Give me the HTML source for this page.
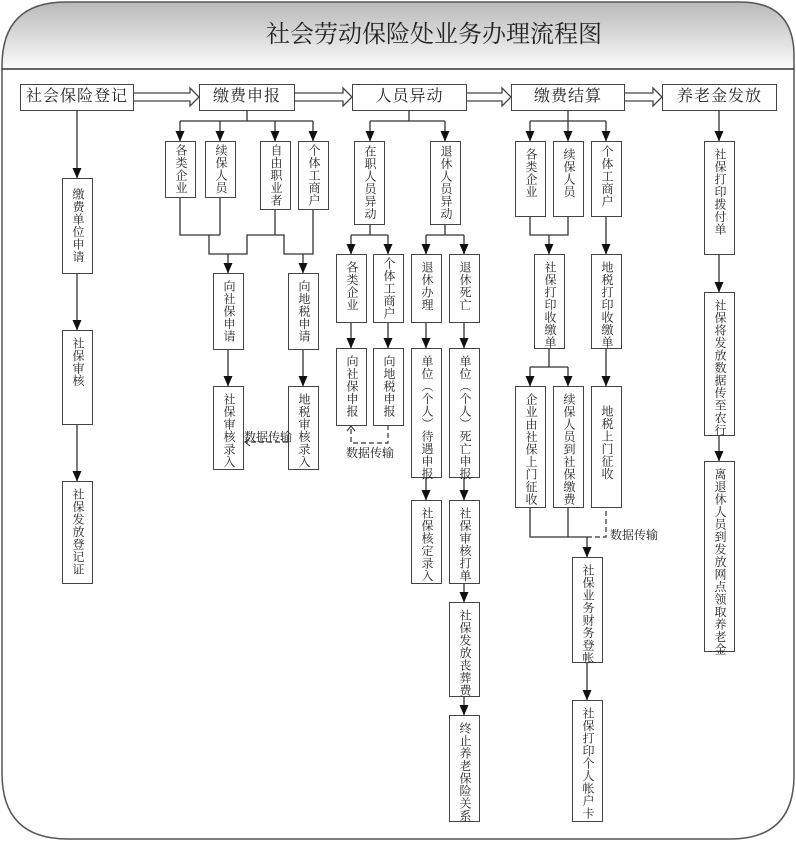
<!DOCTYPE html>
<html><head><meta charset="utf-8">
<style>
html,body{margin:0;padding:0;background:#fff;}
#w{position:relative;width:796px;height:841px;overflow:hidden;font-family:"Liberation Serif","Noto Serif CJK SC",serif;color:#222;}
svg{position:absolute;left:0;top:0;}
.b{position:absolute;box-sizing:border-box;border:1.6px solid #444;background:#fff;}
.v{writing-mode:vertical-rl;text-orientation:upright;font-size:12px;line-height:28px;letter-spacing:0.5px;padding-top:6px;text-align:left;white-space:nowrap;overflow:visible;}
.h{font-size:16px;text-align:center;line-height:24px;letter-spacing:1px;white-space:nowrap;}
.t{position:absolute;font-size:12px;white-space:nowrap;}
</style></head><body><div id="w">
<svg width="796" height="841" viewBox="0 0 796 841">
<defs>
<linearGradient id="g" x1="0" y1="0" x2="0" y2="1"><stop offset="0" stop-color="#b8b8b8"/><stop offset="1" stop-color="#fbfbfb"/></linearGradient>
<marker id="a" markerWidth="10" markerHeight="11" refX="5" refY="10" orient="0" markerUnits="userSpaceOnUse" viewBox="0 0 10 11"><path d="M0.5,0 L9.5,0 L5,10.5 z" fill="#111"/></marker>
</defs>
<path d="M2,69 L2,66 Q2,2 66,2 L740,2 Q794,2 794,56 L794,69 Z" fill="url(#g)"/>
<path d="M2,69 L2,66 Q2,2 66,2 L740,2 Q794,2 794,56 L794,775 Q794,839 730,839 L68,839 Q2,839 2,773 Z" fill="none" stroke="#555" stroke-width="1.5"/>
<line x1="2" y1="69" x2="794" y2="69" stroke="#333" stroke-width="1.5"/>
<text x="434" y="42" font-size="24" text-anchor="middle" font-family="Liberation Serif,Noto Serif CJK SC,serif" fill="#222">社会劳动保险处业务办理流程图</text>
<g fill="#fff" stroke="#444" stroke-width="1.3">
<path d="M133,93 L190,93 L190,88 L199,97 L190,106 L190,101 L133,101 Z"/>
<path d="M294,93 L343,93 L343,88 L352,97 L343,106 L343,101 L294,101 Z"/>
<path d="M466,93 L502,93 L502,88 L511,97 L502,106 L502,101 L466,101 Z"/>
<path d="M624,93 L653,93 L653,88 L662,97 L653,106 L653,101 L624,101 Z"/>
</g>
<g stroke="#333" stroke-width="1.3" fill="none">
<line x1="77" y1="111" x2="77" y2="178" marker-end="url(#a)"/>
<line x1="77" y1="273" x2="77" y2="330" marker-end="url(#a)"/>
<line x1="77" y1="424" x2="77" y2="481" marker-end="url(#a)"/>
<line x1="247" y1="111" x2="247" y2="121"/>
<line x1="180" y1="121" x2="313" y2="121"/>
<line x1="180" y1="121" x2="180" y2="141" marker-end="url(#a)"/>
<line x1="220" y1="121" x2="220" y2="141" marker-end="url(#a)"/>
<line x1="275" y1="121" x2="275" y2="141" marker-end="url(#a)"/>
<line x1="313" y1="121" x2="313" y2="141" marker-end="url(#a)"/>
<polyline points="180,197 180,235 220,235"/>
<line x1="220" y1="197" x2="220" y2="235"/>
<polyline points="209,235 209,254 247,254 247,235 284,235 284,254 313,254 313,209"/>
<line x1="275" y1="209" x2="275" y2="235"/>
<line x1="228" y1="254" x2="228" y2="273" marker-end="url(#a)"/>
<line x1="303" y1="254" x2="303" y2="273" marker-end="url(#a)"/>
<line x1="228" y1="349" x2="228" y2="386" marker-end="url(#a)"/>
<line x1="303" y1="349" x2="303" y2="386" marker-end="url(#a)"/>
<line x1="409" y1="111" x2="409" y2="121"/>
<line x1="370" y1="121" x2="445" y2="121"/>
<line x1="370" y1="121" x2="370" y2="141" marker-end="url(#a)"/>
<line x1="445" y1="121" x2="445" y2="141" marker-end="url(#a)"/>
<line x1="370" y1="224" x2="370" y2="235"/>
<line x1="351" y1="235" x2="388" y2="235"/>
<line x1="351" y1="235" x2="351" y2="254" marker-end="url(#a)"/>
<line x1="388" y1="235" x2="388" y2="254" marker-end="url(#a)"/>
<line x1="445" y1="224" x2="445" y2="235"/>
<line x1="426" y1="235" x2="464" y2="235"/>
<line x1="426" y1="235" x2="426" y2="254" marker-end="url(#a)"/>
<line x1="464" y1="235" x2="464" y2="254" marker-end="url(#a)"/>
<line x1="351" y1="322" x2="351" y2="348" marker-end="url(#a)"/>
<line x1="388" y1="322" x2="388" y2="348" marker-end="url(#a)"/>
<line x1="426" y1="322" x2="426" y2="348" marker-end="url(#a)"/>
<line x1="464" y1="322" x2="464" y2="348" marker-end="url(#a)"/>
<line x1="426" y1="477" x2="426" y2="500" marker-end="url(#a)"/>
<line x1="464" y1="477" x2="464" y2="500" marker-end="url(#a)"/>
<line x1="464" y1="583" x2="464" y2="602" marker-end="url(#a)"/>
<line x1="464" y1="696" x2="464" y2="715" marker-end="url(#a)"/>
<line x1="568" y1="111" x2="568" y2="121"/>
<line x1="530" y1="121" x2="606" y2="121"/>
<line x1="530" y1="121" x2="530" y2="141" marker-end="url(#a)"/>
<line x1="568" y1="121" x2="568" y2="141" marker-end="url(#a)"/>
<line x1="606" y1="121" x2="606" y2="141" marker-end="url(#a)"/>
<polyline points="530,216 530,235 568,235 568,216"/>
<line x1="549" y1="235" x2="549" y2="254" marker-end="url(#a)"/>
<line x1="606" y1="216" x2="606" y2="254" marker-end="url(#a)"/>
<line x1="549" y1="348" x2="549" y2="367"/>
<line x1="530" y1="367" x2="568" y2="367"/>
<line x1="530" y1="367" x2="530" y2="386" marker-end="url(#a)"/>
<line x1="568" y1="367" x2="568" y2="386" marker-end="url(#a)"/>
<line x1="606" y1="348" x2="606" y2="386" marker-end="url(#a)"/>
<polyline points="530,507 530,537 587,537"/>
<line x1="568" y1="507" x2="568" y2="537"/>
<line x1="587" y1="537" x2="587" y2="557" marker-end="url(#a)"/>
<line x1="587" y1="662" x2="587" y2="700" marker-end="url(#a)"/>
<line x1="719" y1="111" x2="719" y2="141" marker-end="url(#a)"/>
<line x1="719" y1="254" x2="719" y2="292" marker-end="url(#a)"/>
<line x1="719" y1="435" x2="719" y2="461" marker-end="url(#a)"/>
</g>
<g stroke="#333" stroke-width="1.2" fill="none" stroke-dasharray="5,3">
<line x1="288" y1="442" x2="246" y2="442"/>
<polyline points="388,425 388,443 351,443 351,428"/>
<polyline points="587,537 606,537 606,507"/>
</g>
<g stroke="#333" stroke-width="1.1" fill="none">
<polyline points="250,438 245,442 250,446"/>
<polyline points="347,431 351,426 355,431"/>
</g>
</svg>
<div class="b h" style="left:20px;top:84px;width:114px;height:27px;">社会保险登记</div>
<div class="b h" style="left:199px;top:84px;width:96px;height:27px;">缴费申报</div>
<div class="b h" style="left:352px;top:84px;width:115px;height:27px;">人员异动</div>
<div class="b h" style="left:511px;top:84px;width:114px;height:27px;">缴费结算</div>
<div class="b h" style="left:662px;top:84px;width:115px;height:27px;">养老金发放</div>
<div class="b v" style="left:62px;top:178px;width:31px;height:96px;padding-top:9px;">缴费单位申请</div>
<div class="b v" style="left:62px;top:330px;width:31px;height:95px;">社保审核</div>
<div class="b v" style="left:62px;top:481px;width:31px;height:103px;">社保发放登记证</div>
<div class="b v" style="left:165px;top:141px;width:31px;height:57px;padding-top:2px;">各类企业</div>
<div class="b v" style="left:205px;top:141px;width:31px;height:57px;padding-top:2px;">续保人员</div>
<div class="b v" style="left:260px;top:141px;width:31px;height:69px;padding-top:2px;">自由职业者</div>
<div class="b v" style="left:298px;top:141px;width:31px;height:69px;padding-top:2px;">个体工商户</div>
<div class="b v" style="left:213px;top:273px;width:31px;height:77px;">向社保申请</div>
<div class="b v" style="left:288px;top:273px;width:31px;height:77px;">向地税申请</div>
<div class="b v" style="left:213px;top:386px;width:31px;height:84px;">社保审核录入</div>
<div class="b v" style="left:288px;top:386px;width:31px;height:84px;">地税审核录入</div>
<div class="t" style="left:244px;top:428px;">数据传输</div>
<div class="b v" style="left:354px;top:141px;width:31px;height:84px;padding-top:3px;">在职人员异动</div>
<div class="b v" style="left:430px;top:141px;width:31px;height:84px;padding-top:3px;">退休人员异动</div>
<div class="b v" style="left:336px;top:254px;width:31px;height:69px;">各类企业</div>
<div class="b v" style="left:373px;top:254px;width:31px;height:69px;padding-top:2px;">个体工商户</div>
<div class="b v" style="left:411px;top:254px;width:31px;height:69px;">退休办理</div>
<div class="b v" style="left:449px;top:254px;width:31px;height:69px;">退休死亡</div>
<div class="b v" style="left:336px;top:348px;width:31px;height:78px;">向社保申报</div>
<div class="b v" style="left:373px;top:348px;width:31px;height:78px;">向地税申报</div>
<div class="t" style="left:346px;top:444px;">数据传输</div>
<div class="b v" style="left:411px;top:348px;width:31px;height:130px;">单位（个人）待遇申报</div>
<div class="b v" style="left:449px;top:348px;width:31px;height:130px;">单位（个人）死亡申报</div>
<div class="b v" style="left:411px;top:500px;width:31px;height:84px;">社保核定录入</div>
<div class="b v" style="left:449px;top:500px;width:31px;height:84px;">社保审核打单</div>
<div class="b v" style="left:449px;top:602px;width:31px;height:95px;">社保发放丧葬费</div>
<div class="b v" style="left:449px;top:715px;width:31px;height:107px;">终止养老保险关系</div>
<div class="b v" style="left:515px;top:141px;width:31px;height:76px;">各类企业</div>
<div class="b v" style="left:553px;top:141px;width:31px;height:76px;">续保人员</div>
<div class="b v" style="left:591px;top:141px;width:31px;height:76px;padding-top:3px;">个体工商户</div>
<div class="b v" style="left:534px;top:254px;width:31px;height:95px;">社保打印收缴单</div>
<div class="b v" style="left:591px;top:254px;width:31px;height:95px;">地税打印收缴单</div>
<div class="b v" style="left:515px;top:386px;width:31px;height:122px;">企业由社保上门征收</div>
<div class="b v" style="left:553px;top:386px;width:31px;height:122px;">续保人员到社保缴费</div>
<div class="b v" style="left:591px;top:386px;width:31px;height:122px;padding-top:18px;">地税上门征收</div>
<div class="t" style="left:610px;top:526px;">数据传输</div>
<div class="b v" style="left:572px;top:557px;width:31px;height:106px;">社保业务财务登帐</div>
<div class="b v" style="left:572px;top:700px;width:31px;height:122px;">社保打印个人帐户卡</div>
<div class="b v" style="left:704px;top:141px;width:31px;height:114px;">社保打印拨付单</div>
<div class="b v" style="left:704px;top:292px;width:31px;height:144px;">社保将发放数据传至农行</div>
<div class="b v" style="left:704px;top:461px;width:31px;height:191px;">离退休人员到发放网点领取养老金</div>
</div></body></html>
